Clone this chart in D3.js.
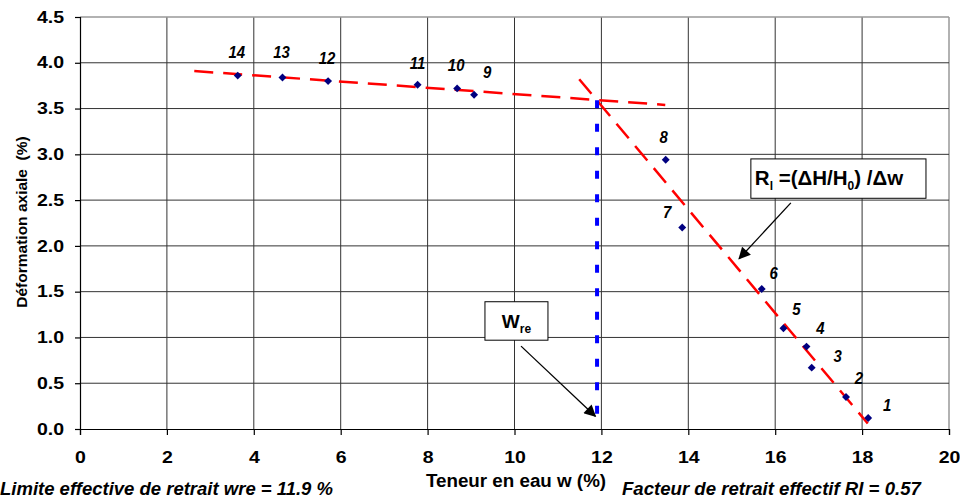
<!DOCTYPE html>
<html>
<head>
<meta charset="utf-8">
<script src="https://cdn.jsdelivr.net/npm/d3@7"></script>
<style>
  html, body { margin: 0; padding: 0; background: #fff; }
  svg { display: block; font-family: "Liberation Sans", Arial, sans-serif; }
</style>
</head>
<body>
<svg id="chart" width="960" height="499"></svg>
<script>
// Essai de retrait : déformation axiale en fonction de la teneur en eau
const pointIds     = [1, 2, 3, 4, 5, 6, 7, 8, 9, 10, 11, 12, 13, 14];
const waterContent = [18.14, 17.63, 16.84, 16.72, 16.19, 15.69, 13.86, 13.48, 9.07, 8.68, 7.77, 5.71, 4.66, 3.63];
const deformation  = [0.12, 0.35, 0.67, 0.90, 1.10, 1.53, 2.20, 2.94, 3.65, 3.72, 3.76, 3.80, 3.84, 3.86];

// Droites d'ajustement (plateau et pente de retrait)
const plateauLine   = [[2.63, 3.91], [13.47, 3.54]];
const shrinkageLine = [[11.49, 3.82], [18.13, 0.06]];
const wre = 11.9;
const wreRange = [0.13, 3.59];

const xTicks = [0, 2, 4, 6, 8, 10, 12, 14, 16, 18, 20];
const yTicks = [0.0, 0.5, 1.0, 1.5, 2.0, 2.5, 3.0, 3.5, 4.0, 4.5];

// Décalage des étiquettes par point (px)
const labelDx = { 1: 19, 2: 13, 3: 26, 4: 14, 5: 13, 6: 12, 7: -15, 8: -2, 9: 13, 10: -1, 11: 0, 12: -1, 13: -1, 14: -1 };
const labelDy = { 1: -7, 2: -13, 3: -6, 4: -13, 5: -13, 6: -10, 7: -10, 8: -17, 9: -17, 10: -17, 11: -16, 12: -17, 13: -19, 14: -18 };

const svg = d3.select("#chart");
const x = d3.scaleLinear().domain([0, 20]).range([80, 949]);
const y = d3.scaleLinear().domain([0, 4.5]).range([429, 17]);

// Grille
const grid = svg.append("g");
grid.selectAll("line.v").data(xTicks.slice(1)).join("line")
  .attr("x1", d => x(d)).attr("x2", d => x(d))
  .attr("y1", y(4.5)).attr("y2", y(0))
  .attr("stroke", d => d === 20 ? "#999" : "#333").attr("stroke-width", d => d === 20 ? 1.5 : 1);
grid.selectAll("line.h").data(yTicks.slice(1)).join("line")
  .attr("x1", x(0)).attr("x2", x(20))
  .attr("y1", d => y(d)).attr("y2", d => y(d))
  .attr("stroke", d => d === 4.5 ? "#999" : "#333").attr("stroke-width", d => d === 4.5 ? 1.5 : 1);

// Axes (libellés élargis horizontalement)
const stretch = 1.22;
const xAxis = svg.append("g").attr("transform", `translate(0,${y(0)})`)
  .call(d3.axisBottom(x).tickValues(xTicks).tickFormat(d3.format("d")).tickSize(6).tickPadding(17));
const yAxis = svg.append("g").attr("transform", `translate(${x(0)},0)`)
  .call(d3.axisLeft(y).tickValues(yTicks).tickFormat(d3.format(".1f")).tickSize(5).tickPadding(9));
[xAxis, yAxis].forEach(a => {
  a.select(".domain").attr("stroke", "#000").attr("stroke-width", 1.2);
  a.selectAll(".tick line").attr("stroke", "#000").attr("stroke-width", 1.2);
  a.selectAll(".tick text").attr("fill", "#000")
    .attr("font-family", "Liberation Sans, Arial, sans-serif")
    .attr("font-size", 16).attr("font-weight", "bold")
    .attr("transform", `scale(${stretch},1)`);
});
yAxis.selectAll(".tick text").attr("x", -16 / stretch);

// Droites d'ajustement
const line = d3.line().x(d => x(d[0])).y(d => y(d[1]));
svg.append("path").attr("d", line(plateauLine))
  .attr("fill", "none").attr("stroke", "#ff0000").attr("stroke-width", 2.5)
  .attr("stroke-dasharray", "19,10");
svg.append("path").attr("d", line(shrinkageLine))
  .attr("fill", "none").attr("stroke", "#ff0000").attr("stroke-width", 2.5)
  .attr("stroke-dasharray", "19,10");

// Limite effective de retrait
svg.append("line")
  .attr("x1", x(wre)).attr("x2", x(wre))
  .attr("y1", y(wreRange[1])).attr("y2", y(wreRange[0]))
  .attr("stroke", "#0000ff").attr("stroke-width", 4)
  .attr("stroke-dasharray", "8,15.5");

// Points de mesure
const pts = pointIds.map((id, i) => ({ id, w: waterContent[i], d: deformation[i] }));
svg.append("g").selectAll("path").data(pts).join("path")
  .attr("transform", p => `translate(${x(p.w)},${y(p.d)})`)
  .attr("d", d3.symbol().type(d3.symbolDiamond2).size(40))
  .attr("fill", "#000080");

svg.append("g").selectAll("text").data(pts).join("text")
  .attr("x", p => x(p.w) + labelDx[p.id])
  .attr("y", p => y(p.d) + labelDy[p.id])
  .attr("text-anchor", "middle")
  .attr("font-size", 17).attr("font-weight", "bold").attr("font-style", "italic")
  .attr("transform", p => {
    const px = x(p.w) + labelDx[p.id];
    return `translate(${px},0) scale(0.88,1) translate(${-px},0)`;
  })
  .text(p => p.id);

// Flèches
svg.append("defs").append("marker")
  .attr("id", "arrow").attr("viewBox", "0 0 10 10")
  .attr("refX", 9).attr("refY", 5)
  .attr("markerWidth", 16).attr("markerHeight", 12).attr("markerUnits", "userSpaceOnUse")
  .attr("orient", "auto")
  .append("path").attr("d", "M0,0 L10,5 L0,10 Z").attr("fill", "#000");

function arrow(a, b) {
  svg.append("line")
    .attr("x1", x(a[0])).attr("y1", y(a[1]))
    .attr("x2", x(b[0])).attr("y2", y(b[1]))
    .attr("stroke", "#000").attr("stroke-width", 1.3)
    .attr("marker-end", "url(#arrow)");
}

// Encadré W_re
svg.append("rect")
  .attr("x", x(9.32)).attr("y", y(1.39))
  .attr("width", x(10.77) - x(9.32)).attr("height", y(0.97) - y(1.39))
  .attr("fill", "#fff").attr("stroke", "#000").attr("stroke-width", 1);
const tW = svg.append("text")
  .attr("x", (x(9.32) + x(10.77)) / 2).attr("y", y(1.39) + 26)
  .attr("text-anchor", "middle").attr("font-weight", "bold").attr("font-size", 19);
tW.append("tspan").text("W");
tW.append("tspan").attr("font-size", 12).attr("dy", 5).text("re");
arrow([10.15, 0.905], [11.86, 0.14]);

// Encadré R_l
svg.append("rect")
  .attr("x", x(15.44)).attr("y", y(2.95))
  .attr("width", x(19.47) - x(15.44)).attr("height", y(2.52) - y(2.95))
  .attr("fill", "#fff").attr("stroke", "#000").attr("stroke-width", 1);
const tR = svg.append("text")
  .attr("x", x(15.44) + 4).attr("y", y(2.95) + 26)
  .attr("font-weight", "bold").attr("font-size", 20.5);
tR.append("tspan").text("R");
tR.append("tspan").attr("font-size", 12).attr("dy", 5).text("l");
tR.append("tspan").attr("dy", -5).text(" =(ΔH/H");
tR.append("tspan").attr("font-size", 12).attr("dy", 5).text("0");
tR.append("tspan").attr("dy", -5).text(") /Δw");
arrow([16.36, 2.47], [15.17, 1.86]);

// Titres des axes
svg.append("text")
  .attr("transform", `translate(27,222) rotate(-90)`)
  .attr("text-anchor", "middle").attr("font-weight", "bold").attr("font-size", 15.5)
  .attr("xml:space", "preserve")
  .text("Déformation axiale  (%)");
svg.append("text")
  .attr("x", 516).attr("y", 487)
  .attr("text-anchor", "middle").attr("font-weight", "bold").attr("font-size", 18.8)
  .text("Teneur en eau w (%)");

// Résultats
svg.append("text")
  .attr("x", 0).attr("y", 495)
  .attr("font-weight", "bold").attr("font-style", "italic").attr("font-size", 18.5)
  .text("Limite effective de retrait wre = 11.9 %");
svg.append("text")
  .attr("x", 622).attr("y", 495)
  .attr("font-weight", "bold").attr("font-style", "italic").attr("font-size", 18.6)
  .text("Facteur de retrait effectif RI = 0.57");
</script>
</body>
</html>
